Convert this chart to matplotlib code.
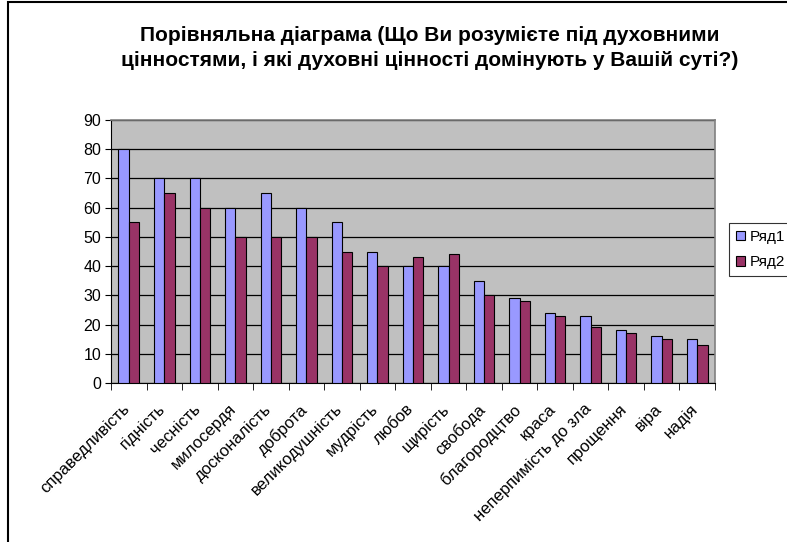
import matplotlib.pyplot as plt
import numpy as np
from matplotlib.patches import Rectangle
from matplotlib.transforms import ScaledTranslation

plt.rcParams['font.family'] = ['Liberation Sans', 'DejaVu Sans']

# data
categories = ['справедливість', 'гідність', 'чесність', 'милосердя', 'досконалість',
              'доброта', 'великодушність', 'мудрість', 'любов', 'щирість', 'свобода',
              'благородцтво', 'краса', 'неперпимість до зла', 'прощення', 'віра', 'надія']
row1 = [80, 70, 70, 60, 65, 60, 55, 45, 40, 40, 35, 29, 24, 23, 18, 16, 15]
row2 = [55, 65, 60, 50, 50, 50, 45, 40, 43, 44, 30, 28, 23, 19, 17, 15, 13]
series_names = ['Ряд1', 'Ряд2']
title = 'Порівняльна діаграма (Що Ви розумієте під духовними\nцінностями, і які духовні цінності домінують у Вашій суті?)'

fig = plt.figure(figsize=(7.87, 5.42), dpi=100)
fig.patch.set_facecolor('white')
# outer chart border (cut off at right and bottom like the screenshot)
fig.patches.append(Rectangle((8/787, -0.05), 1.2, 1.05 - 2/542, transform=fig.transFigure,
                             fill=False, edgecolor='black', linewidth=1.5))

ax = fig.add_axes([111/787, 1 - 383/542, (715 - 111)/787, (383 - 120)/542])
ax.set_facecolor('#C0C0C0')

x = np.arange(len(categories))
w = 0.29
ax.bar(x - w/2, row1, w, color='#9999FF', edgecolor='black', linewidth=0.8,
       label=series_names[0], zorder=3)
ax.bar(x + w/2, row2, w, color='#993366', edgecolor='black', linewidth=0.8,
       label=series_names[1], zorder=3)

ax.set_xlim(-0.5, len(categories) - 0.5)
ax.set_ylim(0, 90)
ax.set_yticks(np.arange(0, 91, 10))
ax.yaxis.grid(True, color='black', linewidth=0.9, zorder=1)
ax.set_axisbelow(True)

ax.set_xticks(x)
ax.set_xticklabels(categories, rotation=45, ha='right', rotation_mode='anchor', fontsize=12)
ax.tick_params(axis='x', which='major', length=0, pad=9)
# shift labels a bit down-left like the original
offset = ScaledTranslation(-0.07, -0.06, fig.dpi_scale_trans)
for lbl in ax.get_xticklabels():
    lbl.set_transform(lbl.get_transform() + offset)
ax.set_xticks(np.arange(-0.5, len(categories)), minor=True)
ax.tick_params(axis='x', which='minor', length=5, direction='out', color='black')
ax.tick_params(axis='y', length=4, direction='out', labelsize=11.5, pad=3)

for s in ['top', 'right']:
    ax.spines[s].set_color('#808080')
    ax.spines[s].set_linewidth(1.2)
for s in ['left', 'bottom']:
    ax.spines[s].set_color('black')

fig.text(0.546, 1 - 48/542, title, ha='center', va='center', fontsize=15,
         fontweight='bold', linespacing=1.35)

leg = fig.legend(loc='upper left', bbox_to_anchor=(729/787, 1 - 223/542), fontsize=11,
                 frameon=True, fancybox=False, edgecolor='black', handlelength=0.6,
                 handleheight=0.6, handletextpad=0.3, borderpad=0.45, labelspacing=0.75,
                 borderaxespad=0)
leg.get_frame().set_linewidth(0.8)

fig.savefig('out.png', dpi=100)
